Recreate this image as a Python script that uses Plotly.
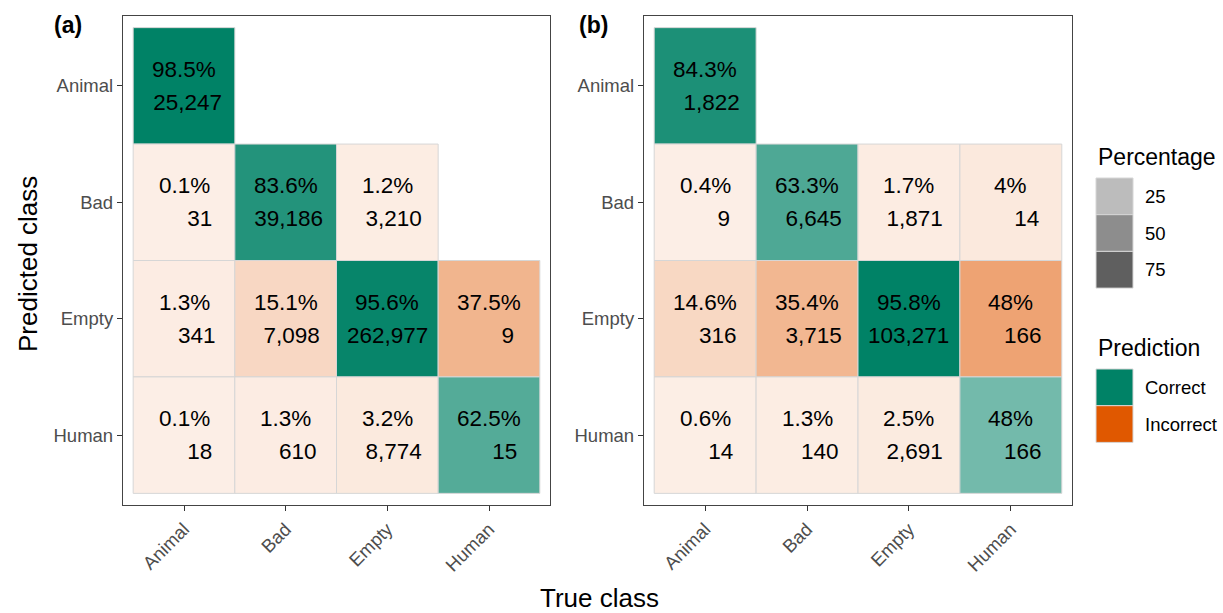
import plotly.graph_objects as go

W, H = 1223, 613
FONT = "Liberation Sans, Arial, Helvetica, sans-serif"

classes = ["Animal", "Bad", "Empty", "Human"]

# ---- Panel (a) data: one entry per tile (true class, predicted class, percentage, count)
true_a = ["Animal", "Animal", "Bad", "Empty", "Animal", "Bad", "Empty", "Human",
          "Animal", "Bad", "Empty", "Human"]
pred_a = ["Animal", "Bad", "Bad", "Bad", "Empty", "Empty", "Empty", "Empty",
          "Human", "Human", "Human", "Human"]
pct_a = [98.5, 0.1, 83.6, 1.2, 1.3, 15.1, 95.6, 37.5, 0.1, 1.3, 3.2, 62.5]
n_a = [25247, 31, 39186, 3210, 341, 7098, 262977, 9, 18, 610, 8774, 15]

# ---- Panel (b) data
true_b = ["Animal", "Animal", "Bad", "Empty", "Human", "Animal", "Bad", "Empty", "Human",
          "Animal", "Bad", "Empty", "Human"]
pred_b = ["Animal", "Bad", "Bad", "Bad", "Bad", "Empty", "Empty", "Empty", "Empty",
          "Human", "Human", "Human", "Human"]
pct_b = [84.3, 0.4, 63.3, 1.7, 4, 14.6, 35.4, 95.8, 48, 0.6, 1.3, 2.5, 48]
n_b = [1822, 9, 6645, 1871, 14, 316, 3715, 103271, 166, 14, 140, 2691, 166]

legend_pct_breaks = [25, 50, 75]
prediction_levels = ["Correct", "Incorrect"]

COL = {"Correct": (0, 130, 102), "Incorrect": (224, 88, 0)}
GREY_BASE = (51, 51, 51)
TILE_BORDER = "#d6d6d6"


def blend(rgb, a):
    r, g, b = (round(255 - a * (255 - c)) for c in rgb)
    return f"rgb({r},{g},{b})"


def alpha_fn(vals):
    lo, hi = min(vals), max(vals)
    return lambda v: 0.1 + 0.9 * (v - lo) / (hi - lo)


def pct_label(p):
    return f"{p:g}%"


fig = go.Figure()
annotations = []
shapes = []


def add_panel(xa, ya, trues, preds, pcts, ns):
    af = alpha_fn(pcts)
    counts = [f"{v:,}" for v in ns]
    width = max(len(c) for c in counts)
    counts = ["\u00a0" * (width - len(c)) + c for c in counts]
    for t, p, pc, cnt in zip(trues, preds, pcts, counts):
        xi = classes.index(t)
        yi = classes.index(p)
        kind = "Correct" if t == p else "Incorrect"
        color = blend(COL[kind], af(pc))
        fig.add_trace(go.Scatter(
            x=[xi - 0.5, xi + 0.5, xi + 0.5, xi - 0.5, xi - 0.5],
            y=[yi - 0.5, yi - 0.5, yi + 0.5, yi + 0.5, yi - 0.5],
            fill="toself", fillcolor=color, mode="lines",
            line=dict(color=TILE_BORDER, width=1),
            xaxis=xa, yaxis=ya, showlegend=False, hoverinfo="skip"))
        for txt, shift in ((pct_label(pc), 16.5), (cnt, -16.5)):
            annotations.append(dict(
                x=xi, y=yi, xref=xa, yref=ya, text=txt, showarrow=False,
                yshift=shift, xanchor="center", yanchor="middle",
                font=dict(family=FONT, size=22.5, color="#000000")))


add_panel("x", "y", true_a, pred_a, pct_a, n_a)
add_panel("x2", "y2", true_b, pred_b, pct_b, n_b)

axis_common = dict(
    showgrid=False, zeroline=False, showline=True, mirror=True,
    linecolor="#444444", linewidth=1.3, ticks="outside", ticklen=5,
    tickcolor="#333333", tickwidth=1.3,
    tickfont=dict(family=FONT, size=18.5, color="#4d4d4d"),
    tickvals=list(range(len(classes))), ticktext=classes,
)

fig.update_layout(
    width=W, height=H, margin=dict(l=0, r=0, t=0, b=0),
    paper_bgcolor="white", plot_bgcolor="white",
    xaxis=dict(domain=[123 / W, 550 / W], range=[-0.6, 3.6], tickangle=-45,
               anchor="y", **axis_common),
    yaxis=dict(domain=[1 - 505 / H, 1 - 16 / H], range=[3.6, -0.6],
               anchor="x", **axis_common),
    xaxis2=dict(domain=[644 / W, 1072 / W], range=[-0.6, 3.6], tickangle=-45,
                anchor="y2", **axis_common),
    yaxis2=dict(domain=[1 - 505 / H, 1 - 16 / H], range=[3.6, -0.6],
                anchor="x2", **axis_common),
)


def px(x):
    return x / W


def py(y):
    return 1 - y / H


def text(x, y, s, size, xanchor="left", angle=0, bold=False, color="#000000"):
    annotations.append(dict(
        x=px(x), y=py(y), xref="paper", yref="paper", text=f"<b>{s}</b>" if bold else s,
        showarrow=False, xanchor=xanchor, yanchor="middle", textangle=angle,
        font=dict(family=FONT, size=size, color=color)))


# panel tags and axis titles
text(52, 25, "(a)", 23, bold=True)
text(577, 25, "(b)", 23, bold=True)
text(28, 264, "Predicted class", 26, xanchor="center", angle=-90)
text(599, 598, "True class", 26, xanchor="center")

# legend: Percentage (alpha scale)
af_a = alpha_fn(pct_a)
text(1096, 157, "Percentage", 23)
for i, v in enumerate(legend_pct_breaks):
    y0 = 178 + i * 36.7
    shapes.append(dict(type="rect", xref="paper", yref="paper",
                       x0=px(1096), x1=px(1133), y0=py(y0), y1=py(y0 + 36.7),
                       fillcolor=blend(GREY_BASE, af_a(v)),
                       line=dict(color=TILE_BORDER, width=1)))
    text(1143, y0 + 18.3, str(v), 18.5)

# legend: Prediction (fill scale)
text(1096, 348, "Prediction", 23)
for i, lvl in enumerate(prediction_levels):
    y0 = 369 + i * 36.7
    shapes.append(dict(type="rect", xref="paper", yref="paper",
                       x0=px(1096), x1=px(1133), y0=py(y0), y1=py(y0 + 36.7),
                       fillcolor=blend(COL[lvl], 1.0),
                       line=dict(color=TILE_BORDER, width=1)))
    text(1143, y0 + 18.3, lvl, 18.5)

fig.update_layout(annotations=annotations, shapes=shapes)
fig.write_html("out.html", config={"displayModeBar": False},
               post_script="document.body.style.margin='0';document.body.style.overflow='hidden';")
